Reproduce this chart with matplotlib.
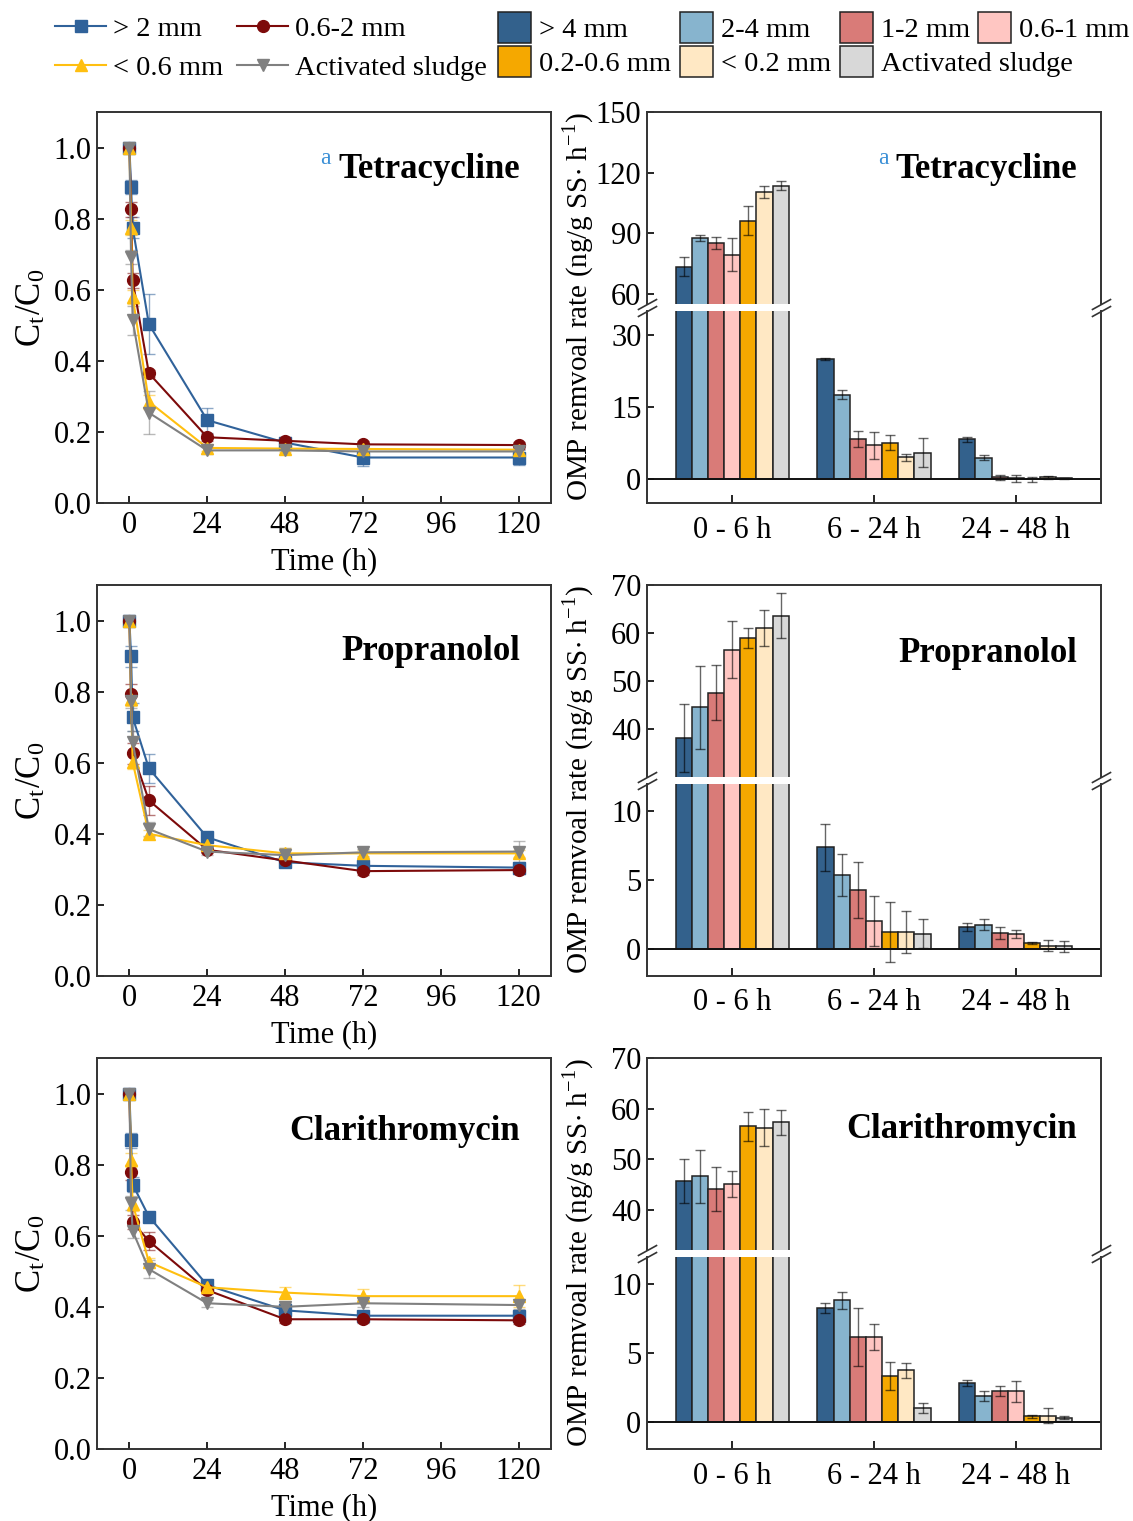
import numpy as np
import matplotlib
matplotlib.use("Agg")
import matplotlib.pyplot as plt
from matplotlib.lines import Line2D
from matplotlib.patches import Patch

plt.rcParams['font.family'] = ['Liberation Serif', 'DejaVu Serif']
plt.rcParams['mathtext.fontset'] = 'stix'
plt.rcParams['axes.linewidth'] = 1.4

# ---------------- kinetics (Ct/C0) ----------------
times = [0, 0.5, 1, 6, 24, 48, 72, 120]
line_labels = ['> 2 mm', '0.6-2 mm', '< 0.6 mm', 'Activated sludge']

tc_gt2 = [1.0, 0.89, 0.775, 0.503, 0.233, 0.17, 0.128, 0.128]
tc_mid = [1.0, 0.826, 0.626, 0.365, 0.185, 0.175, 0.165, 0.163]
tc_lt06 = [1.0, 0.775, 0.58, 0.285, 0.155, 0.153, 0.152, 0.15]
tc_as = [1.0, 0.692, 0.514, 0.254, 0.148, 0.148, 0.145, 0.145]
tc_gt2_err = [0.005, 0.02, 0.03, 0.085, 0.035, 0.01, 0.025, 0.02]
tc_mid_err = [0.005, 0.02, 0.02, 0.01, 0.01, 0.01, 0.01, 0.01]
tc_lt06_err = [0.005, 0.02, 0.02, 0.02, 0.01, 0.01, 0.01, 0.01]
tc_as_err = [0.005, 0.02, 0.04, 0.06, 0.01, 0.01, 0.01, 0.01]

pr_gt2 = [1.0, 0.899, 0.728, 0.584, 0.39, 0.32, 0.31, 0.305]
pr_mid = [1.0, 0.792, 0.626, 0.494, 0.355, 0.325, 0.295, 0.298]
pr_lt06 = [1.0, 0.78, 0.602, 0.40, 0.368, 0.345, 0.345, 0.345]
pr_as = [1.0, 0.775, 0.658, 0.413, 0.35, 0.34, 0.348, 0.35]
pr_gt2_err = [0.005, 0.03, 0.04, 0.04, 0.01, 0.01, 0.01, 0.01]
pr_mid_err = [0.005, 0.03, 0.03, 0.04, 0.01, 0.01, 0.01, 0.01]
pr_lt06_err = [0.005, 0.02, 0.02, 0.01, 0.01, 0.015, 0.01, 0.01]
pr_as_err = [0.005, 0.02, 0.03, 0.02, 0.01, 0.02, 0.01, 0.03]

cl_gt2 = [1.0, 0.868, 0.744, 0.654, 0.461, 0.39, 0.375, 0.375]
cl_mid = [1.0, 0.778, 0.638, 0.585, 0.447, 0.365, 0.365, 0.362]
cl_lt06 = [1.0, 0.812, 0.69, 0.526, 0.455, 0.44, 0.43, 0.43]
cl_as = [1.0, 0.692, 0.613, 0.506, 0.41, 0.40, 0.41, 0.405]
cl_gt2_err = [0.005, 0.02, 0.02, 0.01, 0.015, 0.01, 0.01, 0.01]
cl_mid_err = [0.005, 0.02, 0.02, 0.025, 0.01, 0.01, 0.01, 0.01]
cl_lt06_err = [0.005, 0.02, 0.02, 0.01, 0.01, 0.015, 0.02, 0.03]
cl_as_err = [0.005, 0.02, 0.02, 0.025, 0.01, 0.01, 0.01, 0.01]

# ---------------- removal rates (ng/g SS h-1) ----------------
bar_labels = ['> 4 mm', '2-4 mm', '1-2 mm', '0.6-1 mm', '0.2-0.6 mm', '< 0.2 mm', 'Activated sludge']
intervals = ['0 - 6 h', '6 - 24 h', '24 - 48 h']

tc_0_6 = [73.5, 87.7, 85.2, 79.3, 96.1, 110.3, 113.6]
tc_6_24 = [25.0, 17.6, 8.4, 7.0, 7.6, 4.5, 5.5]
tc_24_48 = [8.3, 4.4, 0.35, 0.15, -0.1, 0.35, 0.15]
tc_0_6_err = [4.6, 1.5, 3.0, 8.2, 7.2, 3.0, 2.3]
tc_6_24_err = [0.3, 1.0, 1.7, 2.8, 1.5, 0.7, 3.1]
tc_24_48_err = [0.5, 0.5, 0.5, 0.7, 0.6, 0.3, 0.1]

pr_0_6 = [38.1, 44.5, 47.6, 56.5, 59.0, 61.0, 63.6]
pr_6_24 = [7.37, 5.36, 4.27, 2.0, 1.2, 1.2, 1.08]
pr_24_48 = [1.57, 1.72, 1.13, 1.05, 0.39, 0.2, 0.18]
pr_0_6_err = [7.1, 8.7, 5.7, 5.9, 2.1, 3.7, 4.7]
pr_6_24_err = [1.7, 1.5, 2.05, 1.8, 2.2, 1.55, 1.05]
pr_24_48_err = [0.3, 0.4, 0.45, 0.3, 0.08, 0.4, 0.4]

cl_0_6 = [45.7, 46.6, 44.1, 45.1, 56.5, 56.2, 57.3]
cl_6_24 = [8.27, 8.83, 6.18, 6.18, 3.31, 3.75, 1.0]
cl_24_48 = [2.82, 1.85, 2.21, 2.21, 0.39, 0.44, 0.27]
cl_0_6_err = [4.3, 5.2, 4.4, 2.6, 2.9, 3.7, 2.5]
cl_6_24_err = [0.34, 0.64, 2.1, 0.97, 1.03, 0.55, 0.36]
cl_24_48_err = [0.2, 0.35, 0.35, 0.75, 0.1, 0.55, 0.1]

line_colors = ['#30629a', '#7d0a0a', '#ffbf10', '#808080']
line_markers = ['s', 'o', '^', 'v']
bar_colors = ['#33618c', '#87b4ce', '#d97b78', '#ffc6c2', '#f5a800', '#ffe8c4', '#d8d8d8']

W, H = 1133, 1521
fig = plt.figure(figsize=(W / 100, H / 100), dpi=100)


def rect(x0, y0, x1, y1):
    return [x0 / W, 1 - y1 / H, (x1 - x0) / W, (y1 - y0) / H]


def fx(x):
    return x / W


def fy(y):
    return 1 - y / H


FS = 22

panels = [
    dict(name='Tetracycline', top=112, mark=True, title_y=(170, 170),
         lines=[(tc_gt2, tc_gt2_err), (tc_mid, tc_mid_err), (tc_lt06, tc_lt06_err), (tc_as, tc_as_err)],
         bars=[(tc_0_6, tc_0_6_err), (tc_6_24, tc_6_24_err), (tc_24_48, tc_24_48_err)],
         up=(55, 150), up_ticks=[60, 90, 120, 150], lo=(-5, 35), lo_ticks=[0, 15, 30]),
    dict(name='Propranolol', top=585, mark=False, title_y=(652, 653),
         lines=[(pr_gt2, pr_gt2_err), (pr_mid, pr_mid_err), (pr_lt06, pr_lt06_err), (pr_as, pr_as_err)],
         bars=[(pr_0_6, pr_0_6_err), (pr_6_24, pr_6_24_err), (pr_24_48, pr_24_48_err)],
         up=(30, 70), up_ticks=[40, 50, 60, 70], lo=(-2, 12), lo_ticks=[0, 5, 10]),
    dict(name='Clarithromycin', top=1058, mark=False, title_y=(1131, 1130),
         lines=[(cl_gt2, cl_gt2_err), (cl_mid, cl_mid_err), (cl_lt06, cl_lt06_err), (cl_as, cl_as_err)],
         bars=[(cl_0_6, cl_0_6_err), (cl_6_24, cl_6_24_err), (cl_24_48, cl_24_48_err)],
         up=(32, 70), up_ticks=[40, 50, 60, 70], lo=(-2, 12), lo_ticks=[0, 5, 10]),
]

spine_col = '#333333'
w = 0.114
groups = np.arange(1, 4)

for p in panels:
    top = p['top']
    bot = top + 391

    # ---- left: Ct/C0 over time ----
    ax = fig.add_axes(rect(97, top, 551, bot))
    for (vals, err), c, m in zip(p['lines'], line_colors, line_markers):
        ax.errorbar(times, vals, yerr=err, color=c, marker=m, ms=8.5, lw=1.5,
                    ecolor=matplotlib.colors.to_rgba(c, 0.55), elinewidth=1, capsize=4)
    ax.set_xlim(-10, 130)
    ax.set_ylim(0, 1.1)
    ax.set_xticks([0, 24, 48, 72, 96, 120])
    ax.set_yticks(np.arange(0, 1.01, 0.2))
    ax.yaxis.set_major_formatter(matplotlib.ticker.FormatStrFormatter('%.1f'))
    ax.tick_params(labelsize=FS, direction='in', length=5, width=1.2, pad=4)
    ax.tick_params(axis='x', pad=6)
    ax.set_xlabel('Time (h)', fontsize=FS, labelpad=5)
    ax.set_ylabel('C$_\\mathregular{t}$/C$_\\mathregular{0}$', fontsize=FS + 3, labelpad=4)
    for s in ax.spines.values():
        s.set_color(spine_col)

    ty_l, ty_r = p['title_y']
    fig.text(fx(520), fy(ty_l), p['name'], ha='right', va='center', fontsize=25, weight='bold')
    fig.text(fx(1077), fy(ty_r), p['name'], ha='right', va='center', fontsize=25, weight='bold')
    if p['mark']:
        fig.text(fx(331), fy(158), 'a', ha='right', va='center', fontsize=17, color='#3a8fd6')
        fig.text(fx(889), fy(158), 'a', ha='right', va='center', fontsize=17, color='#3a8fd6')

    # ---- right: removal rate, broken y axis ----
    mid = top + 192
    ax_up = fig.add_axes(rect(647, top, 1101, mid))
    ax_lo = fig.add_axes(rect(647, mid + 7, 1101, bot))
    for a in (ax_up, ax_lo):
        for i in range(7):
            h = [p['bars'][g][0][i] for g in range(3)]
            e = [p['bars'][g][1][i] for g in range(3)]
            a.bar(groups + (i - 3) * w, h, w, yerr=e, color=bar_colors[i],
                  edgecolor='#222222', linewidth=1.1, capsize=3.5,
                  error_kw=dict(ecolor=(0, 0, 0, 0.6), elinewidth=1, capthick=1))
        a.set_xlim(0.4, 3.6)
        for s in a.spines.values():
            s.set_color(spine_col)
        a.tick_params(labelsize=FS, direction='in', length=5, width=1.2, pad=4)
    ax_up.set_ylim(*p['up'])
    ax_up.set_yticks(p['up_ticks'])
    ax_up.spines['bottom'].set_visible(False)
    ax_up.tick_params(axis='x', bottom=False, labelbottom=False)
    ax_lo.set_ylim(*p['lo'])
    ax_lo.set_yticks(p['lo_ticks'])
    ax_lo.spines['top'].set_visible(False)
    ax_lo.axhline(0, color='#111111', lw=1.4)
    ax_lo.set_xticks(groups)
    ax_lo.set_xticklabels(intervals)
    ax_lo.tick_params(axis='x', length=6, pad=9)

    # break marks
    kw = dict(marker=[(-1, -0.55), (1, 0.55)], markersize=14, linestyle='none',
              color=spine_col, mec=spine_col, mew=1.2, clip_on=False)
    ax_up.plot([0, 1], [0, 0], transform=ax_up.transAxes, **kw)
    ax_lo.plot([0, 1], [1, 1], transform=ax_lo.transAxes, **kw)

    fig.text(fx(579), fy(top + 194), 'OMP remvoal rate (ng/g SS$\\cdot$ h$^\\mathregular{-1}$)',
             rotation=90, ha='center', va='center', fontsize=21)

# ---------------- legends ----------------
line_handles = [Line2D([], [], color=c, marker=m, ms=8.5, lw=1.5)
                for c, m in zip(line_colors, line_markers)]
bar_handles = [Patch(facecolor=c, edgecolor='#222222', linewidth=1.1) for c in bar_colors]

leg_kw = dict(frameon=False, fontsize=20.5, borderpad=0, borderaxespad=0,
              loc='upper left')
line_cols = [(55, [0, 2]), (237, [1, 3])]
for x, idx in line_cols:
    fig.legend([line_handles[i] for i in idx], [line_labels[i] for i in idx],
               bbox_to_anchor=(fx(x), fy(16)), handlelength=1.8, handletextpad=0.25,
               labelspacing=0.45, **leg_kw)

bar_cols = [(498, [0, 4]), (680, [1, 5]), (840, [2, 6]), (978, [3])]
for x, idx in bar_cols:
    fig.legend([bar_handles[i] for i in idx], [bar_labels[i] for i in idx],
               bbox_to_anchor=(fx(x), fy(12)), handlelength=1.15, handleheight=1.3,
               handletextpad=0.3, labelspacing=0.1, **leg_kw)

fig.savefig('out.png', dpi=100)
